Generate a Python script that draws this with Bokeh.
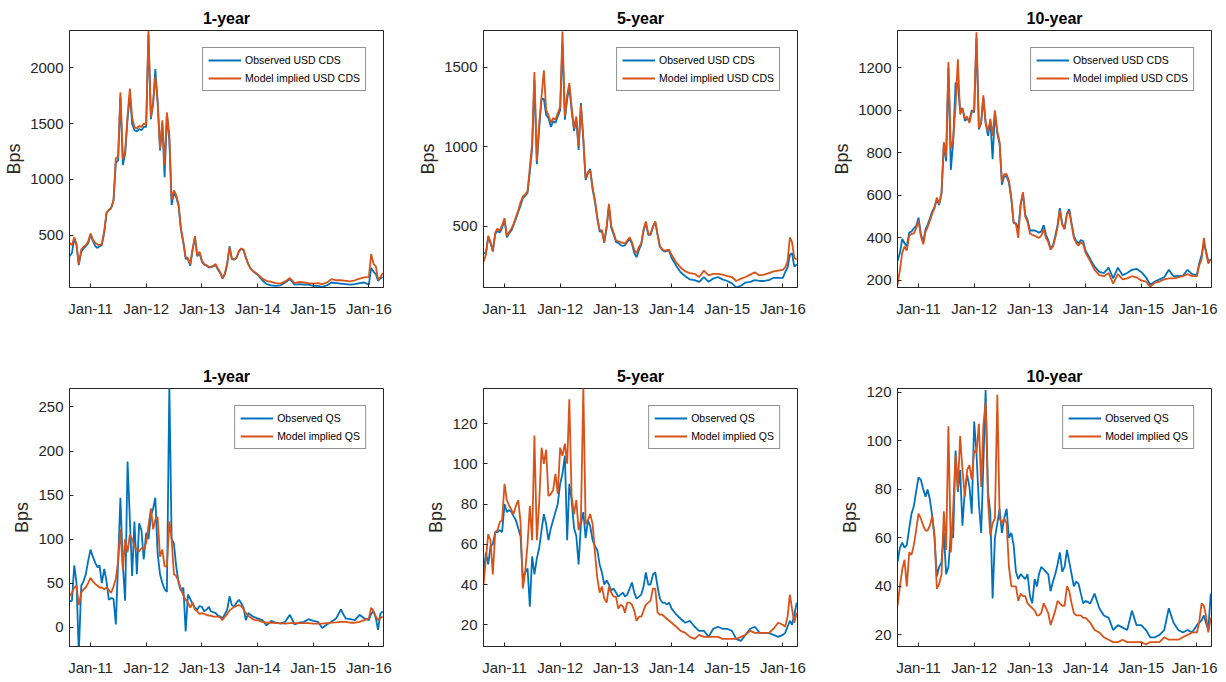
import pandas as pd
from bokeh.plotting import figure
from bokeh.models import Range1d, FixedTicker, DatetimeTickFormatter
from bokeh.layouts import gridplot
from bokeh.embed import file_html
from bokeh.resources import INLINE

# ---------------- data ----------------
dates = [
    "2010-08-16", "2010-09-01", "2010-09-16", "2010-10-01", "2010-10-16", "2010-11-01", "2010-11-16", "2010-12-01", "2010-12-16",
    "2011-01-01", "2011-01-16", "2011-02-01", "2011-02-16", "2011-03-01", "2011-03-16", "2011-04-01", "2011-04-16",
    "2011-05-01", "2011-05-16", "2011-06-01", "2011-06-16", "2011-07-01", "2011-07-16", "2011-08-01", "2011-08-16",
    "2011-09-01", "2011-09-16", "2011-10-01", "2011-10-16", "2011-11-01", "2011-11-16", "2011-12-01", "2011-12-16",
    "2012-01-01", "2012-01-16", "2012-02-01", "2012-02-16", "2012-03-01", "2012-03-16", "2012-04-01", "2012-04-16",
    "2012-05-01", "2012-05-16", "2012-06-01", "2012-06-16", "2012-07-01", "2012-07-16", "2012-08-01", "2012-08-16",
    "2012-09-01", "2012-09-16", "2012-10-01", "2012-10-16", "2012-11-01", "2012-11-16", "2012-12-01", "2012-12-16",
    "2013-01-01", "2013-01-16", "2013-02-01", "2013-02-16", "2013-03-01", "2013-03-16", "2013-04-01", "2013-04-16",
    "2013-05-01", "2013-05-16", "2013-06-01", "2013-06-16", "2013-07-01", "2013-07-16", "2013-08-01", "2013-08-16",
    "2013-09-01", "2013-09-16", "2013-10-01", "2013-10-16", "2013-11-01", "2013-11-16", "2013-12-01", "2013-12-16",
    "2014-01-01", "2014-02-01", "2014-03-01", "2014-04-01", "2014-05-01", "2014-06-01",
    "2014-07-01", "2014-08-01", "2014-09-01", "2014-10-01", "2014-11-01", "2014-12-01",
    "2015-01-01", "2015-02-01", "2015-03-01", "2015-04-01", "2015-05-01", "2015-06-01",
    "2015-07-01", "2015-08-01", "2015-09-01", "2015-10-01", "2015-11-01", "2015-12-01",
    "2016-01-01", "2016-01-16", "2016-02-01", "2016-02-16", "2016-03-01", "2016-03-16", "2016-04-01",
]

# 1-year USD CDS
cds1_obs = [310, 340, 470, 410, 230, 350, 380, 400, 425,
            500, 450, 400, 385, 400, 410, 520, 700, 725, 740, 810, 1150, 1170, 1740, 1130, 1230,
            1540, 1760, 1500, 1440, 1430, 1450, 1440, 1470,
            1470, 2300, 1540, 1680, 1990, 1700, 1260, 1500, 1020, 1580, 1350, 770, 880, 840, 760, 550,
            430, 290, 285, 225, 370, 480, 310, 340,
            260, 235, 225, 210, 210, 220, 230, 190, 160, 110, 150, 240, 400, 285, 280, 295, 355, 375, 365, 295,
            240, 200, 180, 160, 145, 95, 60, 50, 45, 50, 75, 105, 55, 60, 55, 55, 45, 45, 35, 50, 75, 70, 65, 60,
            55, 60, 70, 75, 55, 205, 170, 150, 90, 110, 125]
cds1_mod = [430, 410, 480, 420, 240, 370, 395, 410, 440,
            515, 460, 430, 415, 410, 420, 540, 700, 725, 740, 820, 1190, 1200, 1780, 1180, 1250,
            1575, 1815, 1550, 1470, 1455, 1480, 1470, 1500,
            1490, 2335, 1560, 1700, 1920, 1700, 1275, 1530, 1130, 1600, 1400, 820, 900, 860, 770, 560,
            440, 300, 295, 240, 380, 490, 320, 350,
            270, 240, 230, 215, 215, 225, 240, 200, 165, 115, 160, 250, 390, 290, 285, 300, 360, 380, 370, 300,
            240, 200, 180, 165, 150, 110, 90, 80, 70, 65, 85, 115, 70, 80, 75, 70, 65, 70, 60, 75, 105, 95, 95, 90,
            85, 95, 110, 120, 125, 330, 240, 220, 100, 120, 160]

# 5-year USD CDS
cds5_obs = [330, 330, 430, 395, 340, 450, 470, 460, 490,
            540, 430, 455, 475, 505, 545, 590, 630, 675, 690, 710, 840, 990, 1420, 890, 1110,
            1300, 1300, 1200, 1180, 1125, 1160, 1150, 1190,
            1230, 1650, 1170, 1300, 1380, 1230, 1100, 1170, 980, 1275, 1040, 790, 830, 860, 730, 655,
            545, 465, 470, 395, 490, 630, 490, 450,
            400, 395, 380, 375, 380, 400, 420, 390, 330, 305, 350, 385, 470, 520, 445, 445, 495, 525, 445, 370,
            350, 340, 345, 345, 300, 250, 210, 185, 165, 160, 150, 180, 150, 170, 180, 165, 155, 140, 115, 125,
            145, 150, 160, 155, 155, 160, 175, 175, 175, 210, 240, 320, 330, 245, 260]
cds5_mod = [275, 320, 440, 400, 345, 460, 485, 470, 505,
            550, 440, 465, 485, 515, 555, 600, 650, 685, 700, 720, 870, 1020, 1470, 910, 1140,
            1320, 1480, 1230, 1200, 1150, 1180, 1170, 1210,
            1250, 1725, 1190, 1326, 1400, 1250, 1115, 1190, 1000, 1260, 1050, 800, 840, 850, 740, 665,
            555, 475, 475, 400, 500, 640, 500, 460,
            410, 405, 400, 395, 390, 410, 430, 400, 350, 330, 370, 390, 480, 530, 450, 450, 500, 530, 450, 375,
            355, 345, 350, 350, 320, 270, 240, 215, 205, 200, 180, 220, 190, 200, 200, 195, 185, 180, 155, 170,
            180, 195, 210, 190, 195, 205, 215, 220, 225, 240, 280, 430, 400, 300, 290]

# 10-year USD CDS
cds10_obs = [290, 330, 395, 375, 360, 425, 430, 445, 455,
             495, 420, 380, 440, 460, 490, 525, 545, 580, 555, 610, 840, 760, 1200, 720, 850,
             1130, 1120, 1000, 1010, 950, 960, 950, 1000,
             990, 1340, 910, 940, 1060, 940, 880, 950, 770, 990, 890, 840, 650, 690, 690, 660,
             580, 470, 470, 440, 555, 610, 510, 485,
             435, 435, 435, 430, 425, 430, 460, 415, 390, 350, 365, 410, 460, 540, 465, 445, 515, 535, 470, 410,
             385, 375, 390, 385, 340, 300, 265, 240, 235, 260, 210, 260, 225, 235, 250, 255, 240, 215, 180, 195,
             205, 215, 250, 220, 222, 222, 250, 230, 225, 280, 320, 375, 340, 290, 300]
cds10_mod = [180, 250, 330, 360, 340, 410, 420, 420, 445,
             480, 410, 370, 430, 450, 480, 515, 540, 590, 560, 615, 850, 780, 1227, 820, 860,
             1020, 1240, 980, 1010, 960, 970, 940, 990,
             1000, 1367, 914, 945, 1070, 945, 900, 960, 880, 1000, 900, 850, 664, 700, 700, 670,
             590, 470, 465, 400, 560, 615, 500, 475,
             420, 415, 410, 405, 400, 410, 440, 400, 380, 345, 360, 400, 450, 530, 460, 440, 510, 525, 460, 400,
             375, 365, 380, 370, 330, 290, 250, 225, 220, 235, 185, 230, 205, 210, 220, 215, 200, 195, 170, 190,
             195, 205, 210, 210, 215, 220, 230, 220, 220, 270, 300, 400, 330, 280, 300]

# 1-year QS
qs1_obs = [29, 30, 70, 50, -30, 47, 52, 60, 75,
           88, 80, 73, 68, 70, 50, 66, 52, 31, 33, 32, 3, 75, 147, 70, 30,
           188, 122, 58, 120, 60, 118, 110, 77,
           107, 100, 126, 135, 147, 84, 60, 50, 43, 40, 275, 100, 95, 69, 50, 41,
           45, -5, 37, 32, 26, 22, 20, 24,
           23, 18, 20, 23, 18, 17, 16, 13, 12, 10, 15, 20, 35, 25, 23, 28, 31, 27, 22, 8,
           16, 14, 12, 11, 10, 8, 2, 7, 5, 4, 6, 14, 3, 5, 6, 9, 7, 6, -1, 3,
           6, 10, 20, 10, 9, 8, 14, 10, 8, 15, 18, 10, -3, 15, 18]
qs1_mod = [35, 39, 45, 47, 25, 39, 43, 45, 50,
           56, 52, 49, 47, 45, 45, 43, 45, 42, 39, 46, 55, 75, 111, 65, 100,
           85, 105, 100, 92, 88, 86, 90, 88,
           96, 115, 135, 111, 122, 125, 80, 88, 69, 69, 120, 100, 60, 58, 52, 43,
           36, 31, 28, 22, 28, 20, 18, 15,
           16, 15, 14, 13, 13, 12, 12, 12, 11, 8, 12, 15, 19, 21, 23, 24, 25, 24, 20, 16,
           13, 11, 9, 8, 8, 6, 5, 5, 4.5, 4.5, 4, 4.5, 4.5, 4.5, 4.5, 4.5, 4, 4, 4, 4.5,
           5, 5.5, 6, 6, 5, 5, 6, 8, 10, 22, 18, 12, 8, 10, 12]

# 5-year QS
qs5_obs = [45, 56, 50, 59, 60, 66, 66, 67, 66,
           80, 76, 77, 76, 74, 72, 68, 64, 43, 46, 48, 29, 54, 45, 53, 58,
           67, 75, 70, 62, 68, 72, 76, 80,
           90, 95, 104, 62, 90, 82, 68, 64, 50, 70, 76, 63, 72, 69, 62, 59,
           57, 50, 46, 40, 42, 40, 37, 38,
           36, 34, 35, 36, 34, 35, 38, 41, 36, 33, 34, 35, 39, 46, 40, 40, 45, 46, 39, 33,
           31, 31, 30, 31, 28, 25, 23, 21, 22, 19, 17, 17, 14, 18, 19, 18, 18, 17, 13, 12,
           15, 18, 19, 16, 16, 16, 15, 14, 15, 16, 19, 22, 20, 25, 31]
qs5_mod = [40, 53, 65, 62, 45, 66, 67, 71, 72,
           90, 82, 79, 77, 75, 79, 82, 71, 38, 46, 60, 79, 62, 114, 62, 80,
           108, 100, 107, 84, 85, 87, 95, 85,
           108, 104, 110, 100, 132, 84, 75, 82, 67, 72, 138, 70, 72, 75, 70, 56,
           43, 36, 39, 33, 31, 39, 36, 34,
           34, 28, 30, 29, 26, 31, 31, 30, 27, 22, 24, 24, 27, 30, 31, 32, 38, 38, 26, 25,
           25, 24, 23, 22, 21, 19, 17, 16, 14, 13, 15, 14, 14, 14, 14, 13, 13, 13, 13, 14,
           15, 17, 16, 16, 16, 16, 18, 21, 20, 19, 24, 35, 28, 21, 26]

# 10-year QS
qs10_obs = [50, 56, 58, 56, 57, 64, 70, 73, 79,
            85, 84, 80, 77, 80, 76, 69, 60, 44, 48, 50, 62, 45, 48, 62, 60,
            96, 79, 88, 65, 80, 86, 81, 70,
            108, 95, 74, 62, 90, 121, 79, 70, 35, 60, 66, 72, 62, 68, 72, 60,
            62, 57, 46, 43, 45, 44, 43, 45,
            36, 33, 43, 40, 45, 48, 47, 46, 45, 38, 42, 45, 49, 54, 46, 48, 55, 50, 45, 40,
            42, 41, 37, 33, 34, 33, 37, 31, 28, 27, 22, 24, 23, 22, 30, 24, 24, 22, 19, 19,
            20, 22, 31, 25, 22, 21, 22, 21, 24, 25, 26, 28, 25, 22, 37]
qs10_mod = [32, 40, 47, 51, 40, 54, 53, 57, 63,
            70, 68, 65, 63, 63, 65, 69, 61, 39, 41, 45, 71, 55, 106, 54, 72,
            94, 80, 102, 88, 77, 88, 90, 84,
            96, 95, 107, 81, 106, 116, 75, 61, 66, 68, 119, 68, 66, 68, 66, 48,
            40, 40, 40, 34, 37, 36, 36, 33,
            32, 31, 30, 28, 28, 29, 33, 31, 29, 24, 27, 30, 34, 33, 32, 32, 40, 38, 33, 29,
            28, 28, 28, 27, 27, 25, 22, 21, 19, 18, 17, 17, 18, 17, 17, 17, 17, 16, 17, 17,
            17, 19, 18, 18, 18, 19, 20, 21, 21, 25, 33, 32, 28, 21, 27]

titles = ["1-year", "5-year", "10-year"]
cds_labels = ["Observed USD CDS", "Model implied USD CDS"]
qs_labels = ["Observed QS", "Model implied QS"]
x_tick_dates = ["2011-01-01", "2012-01-01", "2013-01-01", "2014-01-01", "2015-01-01", "2016-01-01"]
x_limits = ["2010-08-16", "2016-04-06"]
y_limits = [[30, 2335], [114, 1731], [167, 1375], [-22, 271], [9.2, 137.4], [15.2, 121.6]]
y_ticks = [[500, 1000, 1500, 2000], [500, 1000, 1500], [200, 400, 600, 800, 1000, 1200],
           [0, 50, 100, 150, 200, 250], [20, 40, 60, 80, 100, 120], [20, 40, 60, 80, 100, 120]]

# ---------------- drawing ----------------
x = pd.to_datetime(pd.Series(dates))
xt_ms = [float(pd.Timestamp(d).value // 10**6) for d in x_tick_dates]
x0, x1 = pd.Timestamp(x_limits[0]), pd.Timestamp(x_limits[1])

FONT = "Liberation Sans"
AX = "#262626"
BLUE = "#0072BD"
ORANGE = "#D95319"
fmt = DatetimeTickFormatter(years="%b-%y", months="%b-%y", days="%b-%y", hours="%b-%y",
                            minutes="%b-%y", seconds="%b-%y", milliseconds="%b-%y")


def style_axis(ax, size="15px"):
    ax.major_tick_in = 4
    ax.major_tick_out = 0
    ax.minor_tick_in = 0
    ax.minor_tick_out = 0
    ax.axis_line_color = AX
    ax.major_tick_line_color = AX
    ax.major_label_text_color = AX
    ax.major_label_text_font = FONT
    ax.major_label_text_font_size = size


def panel(k, title, obs, mod, labels, width, bl, br, height, bt, bb):
    p = figure(width=width, height=height, x_axis_type="datetime", output_backend="svg",
               toolbar_location=None, x_range=Range1d(x0, x1),
               y_range=Range1d(y_limits[k][0], y_limits[k][1]),
               min_border_left=bl, min_border_right=br, min_border_top=bt, min_border_bottom=bb)
    p.line(x, obs, color=BLUE, line_width=1.8, legend_label=labels[0])
    p.line(x, mod, color=ORANGE, line_width=1.8, legend_label=labels[1])
    p.grid.visible = False
    p.outline_line_color = AX
    p.outline_line_width = 1
    p.background_fill_color = "white"
    p.border_fill_color = "white"

    p.xaxis.ticker = FixedTicker(ticks=xt_ms)
    p.xaxis.formatter = fmt
    p.yaxis.ticker = FixedTicker(ticks=y_ticks[k])
    for ax in p.xaxis:
        style_axis(ax)
        ax.major_label_standoff = 12
    for ax in p.yaxis:
        style_axis(ax)
        ax.major_label_standoff = 6
        ax.axis_label = "Bps"
        ax.axis_label_text_font = FONT
        ax.axis_label_text_font_size = "18px"
        ax.axis_label_text_font_style = "normal"
        ax.axis_label_text_color = AX
        ax.axis_label_standoff = 3

    p.title.text = title
    p.title.align = "center"
    p.title.text_font = FONT
    p.title.text_font_size = "16px"
    p.title.text_font_style = "bold"
    p.title.text_color = "black"
    p.title.standoff = 7

    lg = p.legend[0]
    lg.location = "top_right"
    lg.margin = 17
    lg.label_text_font = FONT
    lg.label_text_font_size = "10.5px"
    lg.label_text_color = "black"
    lg.glyph_width = 33
    lg.glyph_height = 14
    lg.label_height = 14
    lg.label_standoff = 4
    lg.spacing = 4
    lg.padding = 5
    lg.border_line_color = AX
    lg.border_line_width = 1
    lg.background_fill_alpha = 1
    return p


widths = [414, 414, 389]
rights = [31, 31, 6]
cds_data = [(cds1_obs, cds1_mod), (cds5_obs, cds5_mod), (cds10_obs, cds10_mod)]
qs_data = [(qs1_obs, qs1_mod), (qs5_obs, qs5_mod), (qs10_obs, qs10_mod)]

top = [panel(i, titles[i], cds_data[i][0], cds_data[i][1], cds_labels,
             widths[i], 69, rights[i], 332, 30, 45) for i in range(3)]
bottom = [panel(3 + i, titles[i], qs_data[i][0], qs_data[i][1], qs_labels,
                widths[i], 69, rights[i], 348, 56, 34) for i in range(3)]

grid = gridplot([top, bottom], toolbar_location=None)
open("out.html", "w").write(file_html(grid, INLINE))
